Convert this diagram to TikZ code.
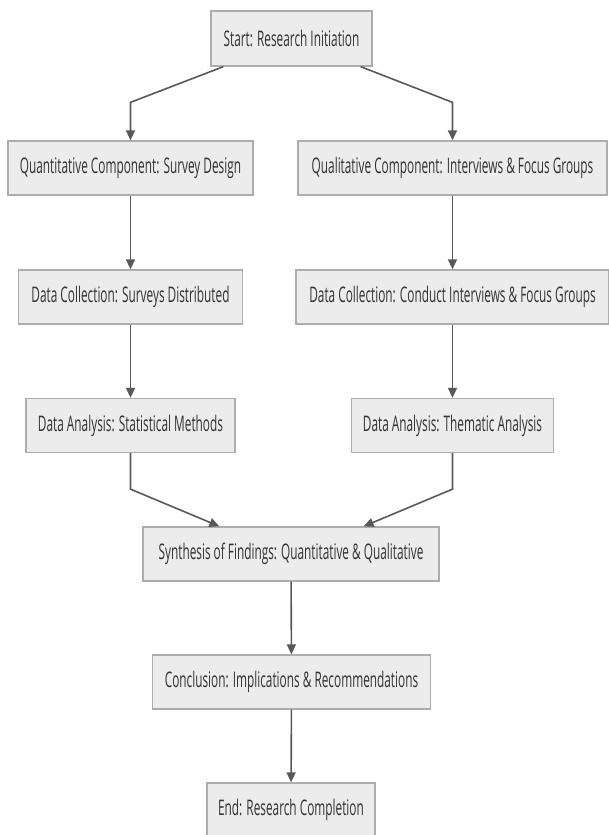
\documentclass[tikz,border=0pt]{standalone}
\usepackage{fontspec}
\newfontfamily\lblfont[FakeStretch=0.55]{Open Sans}
\usetikzlibrary{arrows.meta,calc}
\definecolor{boxfill}{HTML}{ECECEC}
\definecolor{boxline}{HTML}{ADADAD}
\definecolor{txt}{HTML}{333333}
\definecolor{edge}{HTML}{595959}
\tikzset{
  box/.style={draw=boxline, fill=boxfill, line width=1.3pt, minimum height=54pt,
    inner sep=0pt, text=txt, font={\lblfont\fontsize{21.5}{24}\selectfont}, anchor=center},
  arr/.style={draw=edge, line width=1.6pt, -{Triangle[length=10pt,width=9pt]}}
}
\begin{document}
\begin{tikzpicture}[x=1pt,y=-1pt]
\useasboundingbox (0,0) rectangle (609,835);
\fill[white] (0,0) rectangle (609,835);
\node[box, minimum width=161pt, minimum height=55pt] (start) at (291.5,38.5) {Start: Research Initiation};
\node[box, minimum width=245pt] (quant) at (130.5,168) {Quantitative Component: Survey Design};
\node[box, minimum width=309pt] (qual) at (452.5,168) {Qualitative Component: Interviews \& Focus Groups};
\node[box, minimum width=224pt] (dc1) at (130.5,297) {Data Collection: Surveys Distributed};
\node[box, minimum width=313pt] (dc2) at (452.5,297) {Data Collection: Conduct Interviews \& Focus Groups};
\node[box, minimum width=209pt] (da1) at (130.5,425.5) {Data Analysis: Statistical Methods};
\node[box, minimum width=202pt] (da2) at (452.5,425.5) {Data Analysis: Thematic Analysis};
\node[box, minimum width=296pt] (syn) at (291,554) {Synthesis of Findings: Quantitative \& Qualitative};
\node[box, minimum width=278pt] (con) at (291.5,682) {Conclusion: Implications \& Recommendations};
\node[box, minimum width=168pt] (end) at (291,810) {End: Research Completion};

\draw[arr] ($(start.south west)+(13,0)$) -- ($(quant.north)+(0,-38)$) -- (quant.north);
\draw[arr] ($(start.south east)+(-12,0)$) -- ($(qual.north)+(0,-38)$) -- (qual.north);
\draw[arr] (quant) -- (dc1);
\draw[arr] (qual) -- (dc2);
\draw[arr] (dc1) -- (da1);
\draw[arr] (dc2) -- (da2);
\draw[arr] (da1.south) -- ($(da1.south)+(0,36)$) -- ($(syn.north west)+(77,0)$);
\draw[arr] (da2.south) -- ($(da2.south)+(0,36)$) -- ($(syn.north east)+(-76,0)$);
\draw[arr] (syn) -- (con);
\draw[arr] (con) -- (end);
\end{tikzpicture}
\end{document}
